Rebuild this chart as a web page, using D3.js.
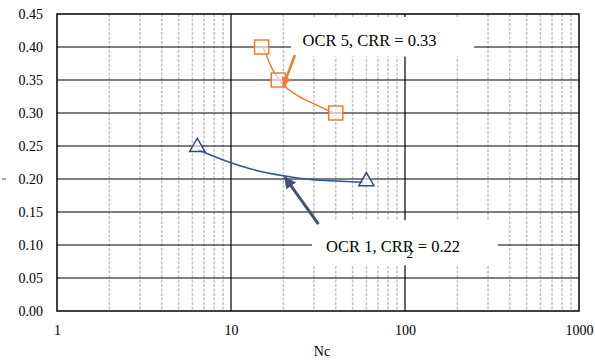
<!DOCTYPE html>
<html>
<head>
<meta charset="utf-8">
<script src="https://cdn.jsdelivr.net/npm/d3@7"></script>
<style>
  body { margin: 0; background: #fff; }
  svg, svg text { font-family: "Liberation Serif", "Times New Roman", "DejaVu Serif", serif !important; }
</style>
</head>
<body>
<svg id="chart" width="595" height="361"></svg>
<script>
// measured points
const ocr5N = [15, 18.7, 40];
const ocr5CRR = [0.40, 0.35, 0.30];
const ocr1N = [6.4, 60];
const ocr1CRR = [0.25, 0.198];

// trend curves
const ocr5CurveN = [15.3, 17.4, 19.6, 23.9, 31.1, 40.5];
const ocr5CurveCRR = [0.400, 0.365, 0.345, 0.327, 0.312, 0.298];
const ocr1CurveN = [6.5, 9.9, 14.0, 20.0, 29.7, 40.5, 57.6];
const ocr1CurveCRR = [0.244, 0.225, 0.213, 0.205, 0.199, 0.197, 0.195];

const xTicks = [1, 10, 100, 1000];
const yTicks = [0, 0.05, 0.10, 0.15, 0.20, 0.25, 0.30, 0.35, 0.40, 0.45];

const svg = d3.select('#chart');
const margin = { top: 14, right: 16, bottom: 50, left: 57 };
const width = +svg.attr('width') - margin.left - margin.right;
const height = +svg.attr('height') - margin.top - margin.bottom;

const x = d3.scaleLog().domain([1, 1000]).range([0, width]);
const y = d3.scaleLinear().domain([0, 0.45]).range([height, 0]);

const g = svg.append('g')
  .attr('transform', `translate(${margin.left},${margin.top})`);

// minor vertical gridlines (dashed grey)
const minors = [];
[1, 10, 100].forEach(d => { for (let k = 2; k <= 9; k++) minors.push(d * k); });
g.selectAll('.minor')
  .data(minors)
  .enter().append('line')
  .attr('x1', d => x(d)).attr('x2', d => x(d))
  .attr('y1', 0).attr('y2', height)
  .attr('stroke', '#c4c4c4')
  .attr('stroke-width', 1.5)
  .attr('stroke-dasharray', '3,1.5');

// major vertical gridlines
g.selectAll('.vmajor')
  .data([10, 100])
  .enter().append('line')
  .attr('x1', d => x(d)).attr('x2', d => x(d))
  .attr('y1', 0).attr('y2', height)
  .attr('stroke', '#000')
  .attr('stroke-width', 1.2);

// horizontal gridlines
g.selectAll('.hgrid')
  .data(yTicks.slice(1, -1))
  .enter().append('line')
  .attr('x1', 0).attr('x2', width)
  .attr('y1', d => y(d)).attr('y2', d => y(d))
  .attr('stroke', '#000')
  .attr('stroke-width', 1.2);

// plot border
g.append('rect')
  .attr('width', width).attr('height', height)
  .attr('fill', 'none')
  .attr('stroke', '#000')
  .attr('stroke-width', 1.5);

// axes (labels only)
const yAxis = g.append('g')
  .call(d3.axisLeft(y).tickValues(yTicks).tickFormat(d3.format('.2f')).tickSize(0).tickPadding(14));
yAxis.attr('font-family', null);
yAxis.select('.domain').remove();
yAxis.selectAll('text').attr('font-size', 14).attr('fill', '#000');

const xAxis = g.append('g')
  .attr('transform', `translate(0,${height})`)
  .call(d3.axisBottom(x).tickValues(xTicks).tickFormat(d3.format('d')).tickSize(0).tickPadding(14));
xAxis.attr('font-family', null);
xAxis.select('.domain').remove();
xAxis.selectAll('text').attr('font-size', 14).attr('fill', '#000');

// stray dash left of 0.20
svg.append('line')
  .attr('x1', 2).attr('x2', 6)
  .attr('y1', margin.top + y(0.20)).attr('y2', margin.top + y(0.20))
  .attr('stroke', '#555').attr('stroke-width', 1);

// x axis title
svg.append('text')
  .attr('x', margin.left + width / 2 + 4)
  .attr('y', 356)
  .attr('text-anchor', 'middle')
  .attr('font-size', 14)
  .text('Nc');

// curves
const line = d3.line().x(d => x(d[0])).y(d => y(d[1])).curve(d3.curveMonotoneX);

g.append('path')
  .datum(ocr5CurveN.map((n, i) => [n, ocr5CurveCRR[i]]))
  .attr('d', line)
  .attr('fill', 'none')
  .attr('stroke', '#ED7D31')
  .attr('stroke-width', 1.5);

g.append('path')
  .datum(ocr1CurveN.map((n, i) => [n, ocr1CurveCRR[i]]))
  .attr('d', line)
  .attr('fill', 'none')
  .attr('stroke', '#2F5597')
  .attr('stroke-width', 1.5);

// markers
g.selectAll('.sq')
  .data(ocr5N.map((n, i) => [n, ocr5CRR[i]]))
  .enter().append('path')
  .attr('transform', d => `translate(${x(d[0])},${y(d[1])})`)
  .attr('d', d3.symbol().type(d3.symbolSquare).size(200))
  .attr('fill', '#fff')
  .attr('fill-opacity', 0.6)
  .attr('stroke', '#ED7D31')
  .attr('stroke-width', 1.5);

g.selectAll('.tri')
  .data(ocr1N.map((n, i) => [n, ocr1CRR[i]]))
  .enter().append('path')
  .attr('transform', d => `translate(${x(d[0])},${y(d[1]) + 1})`)
  .attr('d', d3.symbol().type(d3.symbolTriangle).size(100))
  .attr('fill', '#fff')
  .attr('fill-opacity', 0.6)
  .attr('stroke', '#2F4B7C')
  .attr('stroke-width', 1.5);

// annotations
const defs = svg.append('defs');
function marker(id, color) {
  defs.append('marker')
    .attr('id', id)
    .attr('viewBox', '0 0 10 10')
    .attr('refX', 9).attr('refY', 5)
    .attr('markerWidth', 4).attr('markerHeight', 4)
    .attr('orient', 'auto')
    .append('path')
    .attr('d', 'M0,0 L10,5 L0,10 Z')
    .attr('fill', color);
}
marker('headOrange', '#ED7D31');
marker('headBlue', '#44546A');

function label(box, text, pos) {
  g.append('rect')
    .attr('x', x(box[0])).attr('y', y(box[2]))
    .attr('width', x(box[1]) - x(box[0]))
    .attr('height', y(box[3]) - y(box[2]))
    .attr('fill', '#fff');
  g.append('text')
    .attr('x', x(pos[0])).attr('y', y(pos[1]))
    .attr('font-size', 16.5)
    .text(text);
}

label([22.1, 249, 0.4455, 0.3855], 'OCR 5, CRR = 0.33', [25.8, 0.4015]);
label([29.2, 342, 0.1376, 0.0693], 'OCR 1, CRR = 0.22', [35.2, 0.089]);

// stray subscript on second label
g.append('text')
  .attr('x', x(102)).attr('y', y(0.089) + 6)
  .attr('font-size', 13)
  .text('2');

g.append('line')
  .attr('x1', x(23.3)).attr('y1', y(0.3878))
  .attr('x2', x(20.0)).attr('y2', y(0.3408))
  .attr('stroke', '#ED7D31')
  .attr('stroke-width', 2.5)
  .attr('marker-end', 'url(#headOrange)');

g.append('line')
  .attr('x1', x(31.8)).attr('y1', y(0.1315))
  .attr('x2', x(20.4)).attr('y2', y(0.2028))
  .attr('stroke', '#44546A')
  .attr('stroke-width', 3)
  .attr('marker-end', 'url(#headBlue)');
</script>
</body>
</html>
